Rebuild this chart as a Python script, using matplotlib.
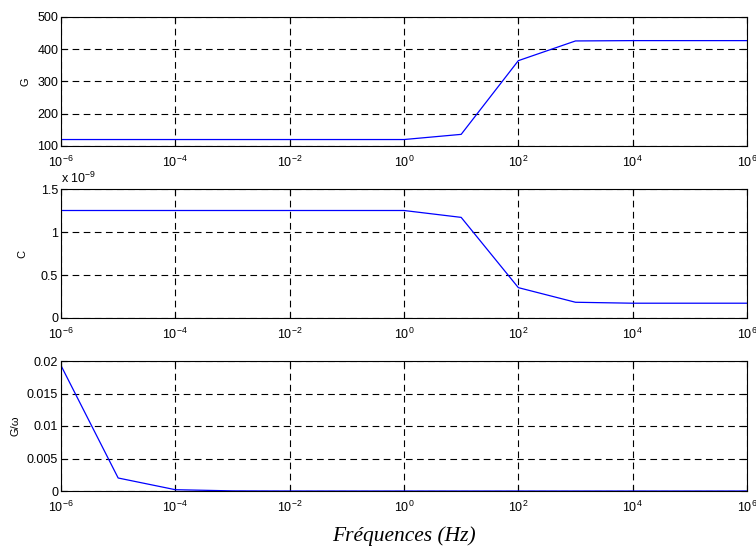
import matplotlib
matplotlib.use("Agg")
import matplotlib.pyplot as plt
import numpy as np
from matplotlib.ticker import FixedLocator, NullLocator, LogFormatterSciNotation

freq = [1e-6, 1e-5, 1e-4, 1e-3, 1e-2, 1e-1, 1e0, 1e1, 1e2, 1e3, 1e4, 1e5, 1e6]
G = [120, 120, 120, 120, 120, 120, 120, 136, 364, 425, 426, 426, 426]
C = [1.25e-9, 1.25e-9, 1.25e-9, 1.25e-9, 1.25e-9, 1.25e-9, 1.25e-9,
     1.17e-9, 0.353e-9, 0.183e-9, 0.172e-9, 0.172e-9, 0.172e-9]
G_omega = [0.0193, 0.0020, 0.0002, 0.00002, 0.000002, 0.0000002, 0.0,
           0.0, 0.0, 0.0, 0.0, 0.0, 0.0]

xticks = [1e-6, 1e-4, 1e-2, 1e0, 1e2, 1e4, 1e6]
G_ticks = [100, 200, 300, 400, 500]
C_ticks = [0, 0.5, 1, 1.5]
C_labels = ["0", "0.5", "1", "1.5"]
Gw_ticks = [0, 0.005, 0.01, 0.015, 0.02]
Gw_labels = ["0", "0.005", "0.01", "0.015", "0.02"]

plt.rcParams['font.family'] = ['Liberation Sans', 'DejaVu Sans']
plt.rcParams['mathtext.fontset'] = 'custom'
plt.rcParams['mathtext.rm'] = 'Liberation Sans'
plt.rcParams['mathtext.it'] = 'Liberation Sans:italic'
plt.rcParams['axes.unicode_minus'] = False

fig = plt.figure(figsize=(7.56, 5.54), dpi=100)
W, H = 756, 554
left, right = 61, 747
boxes = [(16.7, 146), (189, 318), (361, 491)]
axes = []
for (t, b) in boxes:
    ax = fig.add_axes([left / W, 1 - b / H, (right - left) / W, (b - t) / H])
    axes.append(ax)

def style(ax):
    ax.set_xscale('log')
    ax.set_xlim(1e-6, 1e6)
    ax.xaxis.set_major_locator(FixedLocator(xticks))
    ax.xaxis.set_minor_locator(NullLocator())
    ax.xaxis.set_major_formatter(LogFormatterSciNotation())
    ax.grid(True, which='major', color='black', linestyle=(0, (6, 4)), linewidth=0.8)
    ax.tick_params(direction='in', top=True, right=True, length=4, width=0.8,
                   labelsize=9)
    ax.tick_params(axis='x', pad=6)
    ax.tick_params(axis='y', pad=2)
    for s in ax.spines.values():
        s.set_linewidth(0.8)

ax1, ax2, ax3 = axes
ax1.plot(freq, G, color='blue', linewidth=0.9)
style(ax1)
ax1.set_ylim(100, 500)
ax1.set_yticks(G_ticks)
ax1.set_ylabel('G', fontsize=8, labelpad=5)

ax2.plot(freq, np.array(C) / 1e-9, color='blue', linewidth=0.9)
style(ax2)
ax2.set_ylim(0, 1.5)
ax2.set_yticks(C_ticks)
ax2.set_yticklabels(C_labels)
ax2.set_ylabel('C', fontsize=8, labelpad=10)
ax2.text(0.0, 1.02, r'x 10$^{-9}$', transform=ax2.transAxes, fontsize=9,
         ha='left', va='bottom')

ax3.plot(freq, G_omega, color='blue', linewidth=0.9)
style(ax3)
ax3.set_ylim(0, 0.02)
ax3.set_yticks(Gw_ticks)
ax3.set_yticklabels(Gw_labels)
ax3.set_ylabel('G/ω', fontsize=8, labelpad=5)

fig.text((left + right) / 2 / W, 1 - 536 / H, 'Fréquences (Hz)',
         family=['Liberation Serif', 'DejaVu Serif'], style='italic', fontsize=15.5,
         ha='center', va='center')

fig.savefig('out.png', dpi=100)
